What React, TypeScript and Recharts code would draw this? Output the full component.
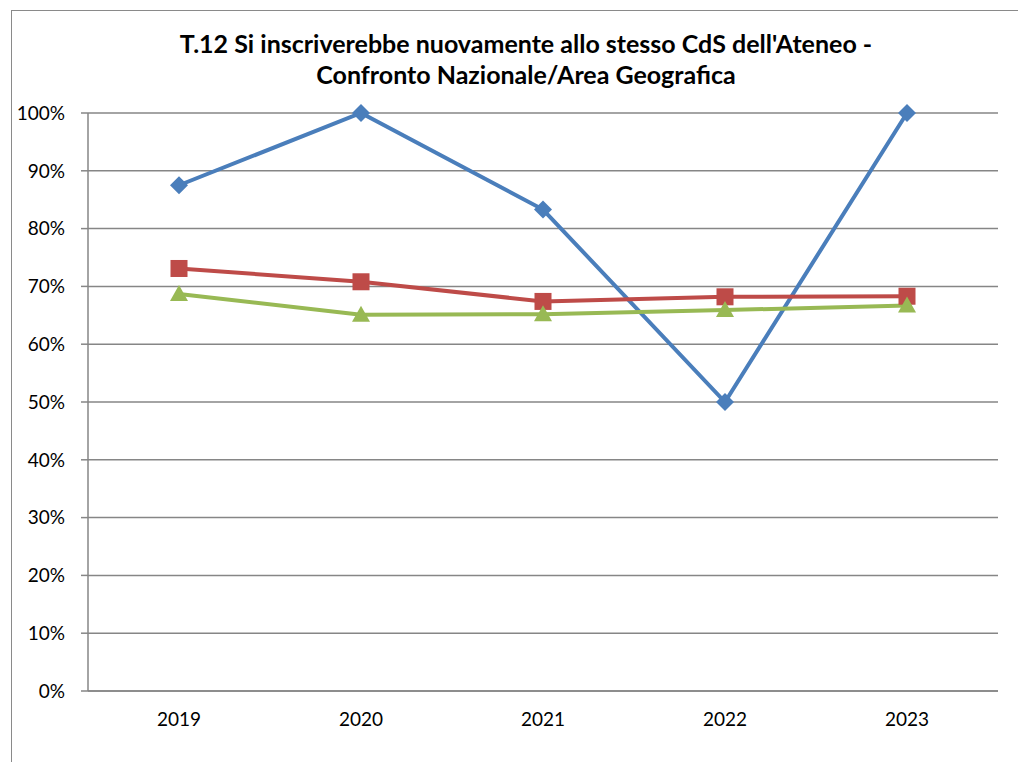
import { LineChart, Line, XAxis, YAxis, CartesianGrid } from 'recharts';

const YEARS = ['2019', '2020', '2021', '2022', '2023'];
const ATENEO = [0.875, 1.0, 0.833, 0.5, 1.0];
const AREA = [0.731, 0.708, 0.674, 0.682, 0.683];
const NAZIONALE = [0.687, 0.651, 0.652, 0.659, 0.667];
const Y_TICKS = [0, 0.1, 0.2, 0.3, 0.4, 0.5, 0.6, 0.7, 0.8, 0.9, 1];
const EDGE_TICKS = [0, 1, 2, 3, 4, 5];

const data = YEARS.map((year, i) => ({
  year,
  ateneo: ATENEO[i],
  area: AREA[i],
  nazionale: NAZIONALE[i],
}));

const FONT = 'Lato, "Open Sans", sans-serif';
const AXIS = '#868686';

const Diamond = ({ cx, cy }: any) => (
  <polygon points={`${cx},${cy - 9} ${cx + 9},${cy} ${cx},${cy + 9} ${cx - 9},${cy}`} fill="#4a7ebb" />
);

const Square = ({ cx, cy }: any) => (
  <rect x={cx - 8.5} y={cy - 8.5} width={17} height={17} fill="#be4b48" />
);

const Triangle = ({ cx, cy }: any) => (
  <polygon points={`${cx},${cy - 9} ${cx + 9},${cy + 7} ${cx - 9},${cy + 7}`} fill="#98b954" />
);

export default function App() {
  return (
    <div style={{ position: 'absolute', left: 0, top: 0, width: 1018, height: 762, background: '#fff', overflow: 'hidden', fontFamily: FONT }}>
      <div style={{ position: 'absolute', left: 11, top: 10, width: 1100, height: 800, borderLeft: '1.5px solid #8a8a8a', borderTop: '1.5px solid #8a8a8a' }} />
      <div style={{ position: 'absolute', left: 0, top: 28, width: 1052, textAlign: 'center', fontWeight: 700, fontSize: 25, lineHeight: '31px', color: '#000' }}>
        T.12 Si inscriverebbe nuovamente allo stesso CdS dell'Ateneo -<br />
        Confronto Nazionale/Area Geografica
      </div>
      <LineChart width={1018} height={762} data={data} margin={{ top: 113, right: 20, bottom: 0, left: 10 }} style={{ position: 'absolute', left: 0, top: 0 }}>
        <CartesianGrid vertical={false} stroke={AXIS} strokeWidth={1.5} />
        <XAxis
          xAxisId="edges"
          type="number"
          domain={[0, 5]}
          ticks={EDGE_TICKS}
          allowDataOverflow
          height={0}
          axisLine={false}
          tickSize={7}
          tickLine={{ stroke: AXIS, strokeWidth: 1.5 }}
          tickFormatter={() => ''}
        />
        <XAxis
          dataKey="year"
          height={71}
          padding={{ left: 91, right: 91 }}
          axisLine={{ stroke: AXIS, strokeWidth: 1.5 }}
          tickLine={false}
          tickSize={0}
          tickMargin={22}
          tick={{ fill: '#000', fontSize: 19, fontFamily: FONT }}
        />
        <YAxis
          width={78}
          domain={[0, 1]}
          ticks={Y_TICKS}
          interval={0}
          tickFormatter={(v: number) => `${Math.round(v * 100)}%`}
          axisLine={{ stroke: AXIS, strokeWidth: 1.5 }}
          tickLine={{ stroke: AXIS, strokeWidth: 1.5 }}
          tickSize={7}
          tickMargin={16}
          tick={{ fill: '#000', fontSize: 19, fontFamily: FONT }}
        />
        <Line dataKey="ateneo" stroke="#4a7ebb" strokeWidth={4} dot={<Diamond />} isAnimationActive={false} />
        <Line dataKey="area" stroke="#be4b48" strokeWidth={4} dot={<Square />} isAnimationActive={false} />
        <Line dataKey="nazionale" stroke="#98b954" strokeWidth={4} dot={<Triangle />} isAnimationActive={false} />
      </LineChart>
    </div>
  );
}
